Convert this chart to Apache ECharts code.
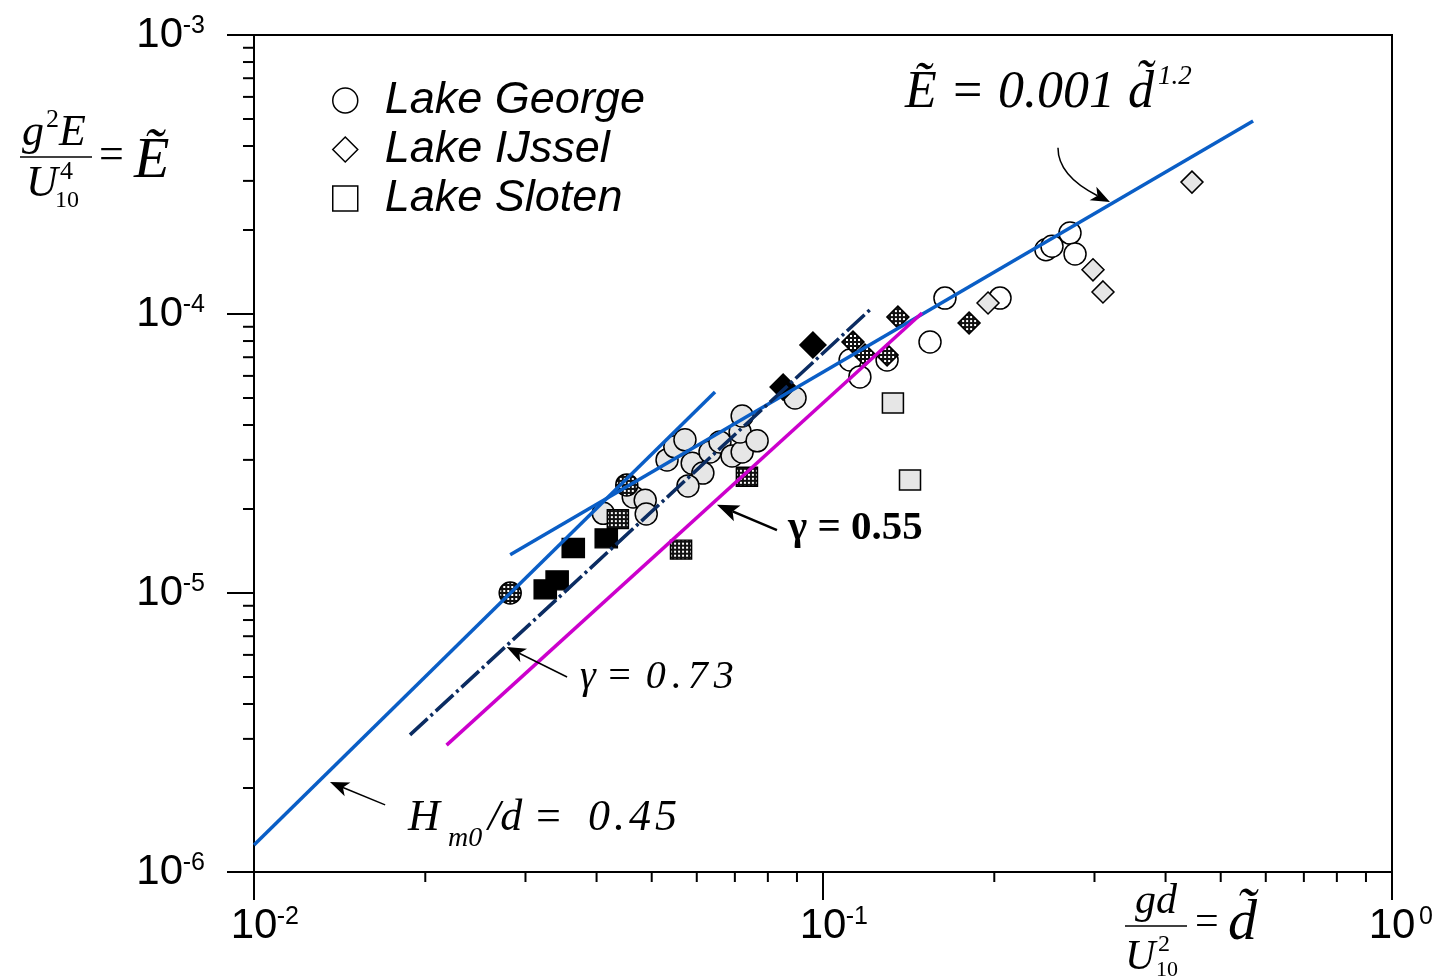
<!DOCTYPE html>
<html><head><meta charset="utf-8">
<script src="https://cdn.jsdelivr.net/npm/echarts@6/dist/echarts.min.js"></script>
<style>html,body{margin:0;padding:0;background:#fff}#c{width:1435px;height:980px}</style>
</head><body><div id="c"></div>
<script>
// ---- data (x = gd/U10^2, y = g^2E/U10^4) ----
const lakeGeorgeDotted = [[0.0282,1.00e-5],[0.0452,2.44e-5]];
const lakeGeorgeGray = [[0.0411,1.93e-5],[0.0464,2.21e-5],[0.0487,2.15e-5],[0.0489,1.92e-5],[0.0532,3.00e-5],[0.0549,3.34e-5],[0.0572,3.54e-5],[0.0589,2.92e-5],[0.0615,2.69e-5],[0.0579,2.42e-5],[0.0633,3.20e-5],[0.0659,3.48e-5],[0.0692,3.10e-5],[0.0721,3.20e-5],[0.0715,3.78e-5],[0.0721,4.31e-5],[0.0766,3.51e-5],[0.0893,5.00e-5]];
const lakeGeorgeWhite = [[0.1116,6.84e-5],[0.1161,5.95e-5],[0.1296,6.84e-5],[0.1542,7.94e-5],[0.1638,1.14e-4],[0.2047,1.14e-4],[0.2465,1.70e-4],[0.2526,1.75e-4],[0.2717,1.95e-4],[0.2773,1.64e-4]];
const lakeIJsselBlack = [[0.0960,7.74e-5],[0.0851,5.47e-5]];
const lakeIJsselDotted = [[0.1129,7.94e-5],[0.1185,7.13e-5],[0.1296,7.13e-5],[0.1354,9.75e-5],[0.1806,9.28e-5]];
const lakeIJsselLight = [[0.1950,1.095e-4],[0.2982,1.44e-4],[0.3105,1.20e-4],[0.4451,2.97e-4]];
const lakeSlotenBlack = [[0.0325,1.03e-5],[0.0341,1.11e-5],[0.0364,1.45e-5],[0.0416,1.57e-5]];
const lakeSlotenDotted = [[0.0436,1.84e-5],[0.0563,1.43e-5],[0.0735,2.61e-5]];
const lakeSlotenLight = [[0.1327,4.80e-5],[0.1422,2.54e-5]];

// reference lines (end points)
const lineHm045 = [[0.01,1.25e-6],[0.0646,5.25e-5]];
const lineE0001 = [[0.0282,1.37e-5],[0.570,4.92e-4]];
const lineGamma073 = [[0.0188,3.10e-6],[0.1219,1.051e-4]];
const lineGamma055 = [[0.0218,2.85e-6],[0.1493,1.008e-4]];

// tick labels (exponents of 10) and minor tick values
const xTickExponents = ['-2','-1','0'];
const yTickExponents = ['-6','-5','-4','-3'];
const xMinorTicks = [0.02,0.03,0.04,0.05,0.06,0.07,0.08,0.09,0.2,0.3,0.4,0.5,0.6,0.7,0.8,0.9];
const yMinorTicks = [2e-6,3e-6,4e-6,5e-6,6e-6,7e-6,8e-6,9e-6,2e-5,3e-5,4e-5,5e-5,6e-5,7e-5,8e-5,9e-5,2e-4,3e-4,4e-4,5e-4,6e-4,7e-4,8e-4,9e-4];

// annotation anchors (data coordinates: left edge, text middle) and arrows [tailX, tailY, tipX, tipY]
const annotE = [0.1394, 6.20e-4];
const annotG055 = [0.0868, 1.70e-5];
const annotG073 = [0.0374, 4.96e-6];
const annotHm0 = [0.01865, 1.55e-6];
const arrowHm0 = [0.0170, 1.74e-6, 0.0136, 2.10e-6];
const arrowG073 = [0.0355, 5.00e-6, 0.0278, 6.40e-6];
const arrowG055 = [0.0830, 1.68e-5, 0.0651, 2.07e-5];
const arrowE = [0.2588, 3.94e-4, 0.3194, 2.52e-4];

function makePattern(w, h){
  const c = document.createElement('canvas'); c.width = 4; c.height = 4;
  const g = c.getContext('2d');
  g.fillStyle = '#111'; g.fillRect(0,0,4,4);
  g.fillStyle = '#fff'; g.fillRect(1,1,2,2);
  return {image: c, repeat: 'repeat', scaleX: 2 / w, scaleY: 2 / h};
}
const GRAY = '#e6e6e6';
const SERIF = '"Liberation Serif"';

function sc(name, data, symbol, size, color){
  return {type:'scatter', name, data, symbol, symbolSize:size, silent:true, z:2,
    itemStyle:{color, borderColor:'#000', borderWidth:1.5, opacity:1}};
}
function ln(name, data, color, width, type){
  return {type:'line', name, data, symbol:'none', silent:true, z:3,
    lineStyle:{color, width, type: type || 'solid'}};
}
function txt(x, y, text, font, extra){
  return Object.assign({type:'text', x, y, style:Object.assign({text, font, fill:'#000', align:'left', verticalAlign:'middle'}, extra || {})});
}

// annotation text builders (pixel offsets relative to the anchor)
const annotationBuilders = [
  () => [txt(0, 0, 'Ẽ = 0.001 d\u0303', 'italic 52px ' + SERIF), txt(253, -16, '1.2', 'italic 27px ' + SERIF)],
  () => [txt(0, 0, 'γ = 0.55', 'bold 41px ' + SERIF)],
  () => [{type:'text', x:0, y:0, style:{text:'{t|γ = }{d|0}{d|.}{d|7}{d|3}', fill:'#000', align:'left', verticalAlign:'middle',
          rich:{t:{font:'italic 40px ' + SERIF, fill:'#000'}, d:{font:'italic 40px ' + SERIF, fill:'#000', padding:[0,3,0,3]}}}}],
  () => [txt(0, 0, 'H', 'italic 44px ' + SERIF), txt(40, 20, 'm0', 'italic 28px ' + SERIF),
         {type:'text', x:80, y:0, style:{text:'{t|/d = }{sp| }{d|0}{d|.}{d|4}{d|5}', fill:'#000', align:'left', verticalAlign:'middle',
          rich:{t:{font:'italic 44px ' + SERIF, fill:'#000'}, sp:{font:'10px ' + SERIF, width:12}, d:{font:'italic 44px ' + SERIF, fill:'#000', padding:[0,2,0,2]}}}}]
];
const arrowWidths = [1.5, 1.5, 2.5, 1.5];
const arrowCurved = [false, false, false, true];

const chart = echarts.init(document.getElementById('c'), null, {renderer:'canvas'});
const tickFont = 'Liberation Sans';
function expOf(v){ return String(Math.round(Math.log10(v))); }

const option = {
  animation:false,
  backgroundColor:'#fff',
  grid:{left:254, right:43, top:35, bottom:108, show:true, borderColor:'#000', borderWidth:2, containLabel:false, outerBoundsMode:'none'},
  xAxis:{type:'log', logBase:10, min:0.01, max:1,
    axisLine:{show:true, onZero:false, lineStyle:{color:'#000', width:2}},
    axisTick:{show:true, inside:false, length:28, lineStyle:{color:'#000', width:2}},
    splitLine:{show:false}, minorTick:{show:false},
    axisLabel:{show:true, margin:33, showMinLabel:true, showMaxLabel:true, hideOverlap:false,
      formatter:(v)=>{ const e = expOf(v); const s = xTickExponents[xTickExponents.indexOf(e)]; return '{sp| }{b|10}{s|' + s + '}'; },
      rich:{sp:{width:21, fontSize:10}, b:{fontSize:42, lineHeight:42, fontFamily:tickFont, color:'#000'},
            s:{fontSize:25, lineHeight:24, verticalAlign:'top', fontFamily:tickFont, color:'#000', width:21}}}
  },
  yAxis:{type:'log', logBase:10, min:1e-6, max:1e-3,
    axisLine:{show:true, onZero:false, lineStyle:{color:'#000', width:2}},
    axisTick:{show:true, inside:false, length:27, lineStyle:{color:'#000', width:2}},
    splitLine:{show:false}, minorTick:{show:false},
    axisLabel:{show:true, margin:49, showMinLabel:true, showMaxLabel:true, hideOverlap:false,
      formatter:(v)=>{ const e = expOf(v); const s = yTickExponents[yTickExponents.indexOf(e)]; return '{b|10}{s|' + s + '}'; },
      rich:{b:{fontSize:42, lineHeight:42, fontFamily:tickFont, color:'#000'},
            s:{fontSize:25, lineHeight:24, verticalAlign:'top', fontFamily:tickFont, color:'#000', width:22}}}
  },
  legend:{show:true, orient:'vertical', left:332, top:78, padding:0, itemWidth:25, itemHeight:25, itemGap:4,
    selectedMode:false,
    textStyle:{fontFamily:tickFont, fontStyle:'italic', fontSize:45, color:'#000', padding:[0,0,0,22]},
    data:[
      {name:'Lake George', icon:'circle', itemStyle:{color:'#fff', borderColor:'#000', borderWidth:1.5}},
      {name:'Lake IJssel', icon:'diamond', itemStyle:{color:'#fff', borderColor:'#000', borderWidth:1.5}},
      {name:'Lake Sloten', icon:'rect', itemStyle:{color:'#fff', borderColor:'#000', borderWidth:1.5}}
    ]},
  series:[
    sc('Lake George', lakeGeorgeWhite, 'circle', 22, '#fff'),
    sc('Lake George', lakeGeorgeGray, 'circle', 22, GRAY),
    sc('Lake George', lakeGeorgeDotted, 'circle', 22, makePattern(22,22)),
    sc('Lake IJssel', lakeIJsselLight, 'diamond', 22, GRAY),
    sc('Lake IJssel', lakeIJsselDotted, 'diamond', 22, makePattern(22,22)),
    sc('Lake IJssel', lakeIJsselBlack, 'diamond', 26, '#000'),
    sc('Lake Sloten', lakeSlotenLight, 'rect', [21,20], GRAY),
    sc('Lake Sloten', lakeSlotenDotted, 'rect', [21,19], makePattern(21,19)),
    sc('Lake Sloten', lakeSlotenBlack, 'rect', [22,19], '#000'),
    ln('Hm0/d = 0.45', lineHm045, '#0a5ec6', 3.5),
    ln('E = 0.001 d^1.2', lineE0001, '#0a5ec6', 3.5),
    ln('gamma = 0.73', lineGamma073, '#0b2c62', 3.5, [24,4,3,4]),
    ln('gamma = 0.55', lineGamma055, '#cc00cc', 3.5),
    // minor ticks on the x axis
    {type:'custom', name:'xMinor', silent:true, clip:false, z:5,
      data: xMinorTicks.map(v=>[v, 1e-6]),
      renderItem:(p, api)=>{ const pt = api.coord([api.value(0), api.value(1)]);
        return {type:'line', shape:{x1:pt[0], y1:pt[1], x2:pt[0], y2:pt[1]+10}, style:{stroke:'#000', lineWidth:2}}; }},
    // minor ticks on the y axis
    {type:'custom', name:'yMinor', silent:true, clip:false, z:5,
      data: yMinorTicks.map(v=>[0.01, v]),
      renderItem:(p, api)=>{ const pt = api.coord([api.value(0), api.value(1)]);
        return {type:'line', shape:{x1:pt[0], y1:pt[1], x2:pt[0]-11, y2:pt[1]}, style:{stroke:'#000', lineWidth:2}}; }},
    // annotation texts
    {type:'custom', name:'annotations', silent:true, clip:false, z:6,
      data:[annotE, annotG055, annotG073, annotHm0],
      renderItem:(p, api)=>{ const pt = api.coord([api.value(0), api.value(1)]);
        return {type:'group', x:pt[0], y:pt[1], children: annotationBuilders[p.dataIndex]()}; }},
    // arrows
    {type:'custom', name:'arrows', silent:true, clip:false, z:6,
      encode:{x:[0,2], y:[1,3]},
      data:[arrowHm0, arrowG073, arrowG055, arrowE],
      renderItem:(p, api)=>{
        const a = api.coord([api.value(0), api.value(1)]);
        const b = api.coord([api.value(2), api.value(3)]);
        const i = p.dataIndex, w = arrowWidths[i];
        let from = a, shape, type;
        let c1, c2;
        if (arrowCurved[i]) {
          c1 = [a[0], a[1] + 0.45 * (b[1] - a[1])];
          c2 = [b[0] - 0.58 * (b[0] - a[0]), b[1] - 0.28 * (b[1] - a[1])];
          from = c2;
        }
        const dx = b[0] - from[0], dy = b[1] - from[1], L = Math.hypot(dx, dy);
        const ux = dx / L, uy = dy / L, nx = -uy, ny = ux;
        const hl = w > 2 ? 22 : 19, hw = w > 2 ? 8.5 : 7.5;
        const notch = [b[0] - ux * (hl - 5), b[1] - uy * (hl - 5)];
        const head = [[b[0], b[1]], [b[0] - ux*hl + nx*hw, b[1] - uy*hl + ny*hw], notch, [b[0] - ux*hl - nx*hw, b[1] - uy*hl - ny*hw]];
        let lineEl;
        if (arrowCurved[i]) {
          lineEl = {type:'bezierCurve', shape:{x1:a[0], y1:a[1], cpx1:c1[0], cpy1:c1[1], cpx2:c2[0], cpy2:c2[1], x2:notch[0], y2:notch[1]}, style:{stroke:'#000', lineWidth:w, fill:null}};
        } else {
          lineEl = {type:'line', shape:{x1:a[0], y1:a[1], x2:notch[0], y2:notch[1]}, style:{stroke:'#000', lineWidth:w}};
        }
        return {type:'group', children:[lineEl, {type:'polygon', shape:{points:head}, style:{fill:'#000'}}]};
      }}
  ],
  graphic:[
    // y-axis title: g^2E / U^4_10 = Ẽ
    {type:'text', x:22, y:133, style:{text:'g', font:'italic 44px "Liberation Serif"', fill:'#000', align:'left', verticalAlign:'middle'}},
    {type:'text', x:46, y:120, style:{text:'2', font:'26px "Liberation Serif"', fill:'#000', align:'left', verticalAlign:'middle'}},
    {type:'text', x:59, y:133, style:{text:'E', font:'italic 44px "Liberation Serif"', fill:'#000', align:'left', verticalAlign:'middle'}},
    {type:'line', shape:{x1:20, y1:157, x2:92, y2:157}, style:{stroke:'#000', lineWidth:1.5}},
    {type:'text', x:26, y:184, style:{text:'U', font:'italic 44px "Liberation Serif"', fill:'#000', align:'left', verticalAlign:'middle'}},
    {type:'text', x:60, y:172, style:{text:'4', font:'26px "Liberation Serif"', fill:'#000', align:'left', verticalAlign:'middle'}},
    {type:'text', x:55, y:201, style:{text:'10', font:'24px "Liberation Serif"', fill:'#000', align:'left', verticalAlign:'middle'}},
    {type:'text', x:99, y:156, style:{text:'=', font:'44px "Liberation Serif"', fill:'#000', align:'left', verticalAlign:'middle'}},
    {type:'text', x:134, y:162, style:{text:'Ẽ', font:'italic 58px "Liberation Serif"', fill:'#000', align:'left', verticalAlign:'middle'}},
    // x-axis title: gd / U^2_10 = d̃
    {type:'text', x:1156, y:902, style:{text:'gd', font:'italic 42px "Liberation Serif"', fill:'#000', align:'center', verticalAlign:'middle'}},
    {type:'line', shape:{x1:1125, y1:926, x2:1187, y2:926}, style:{stroke:'#000', lineWidth:1.5}},
    {type:'text', x:1125, y:958, style:{text:'U', font:'italic 42px "Liberation Serif"', fill:'#000', align:'left', verticalAlign:'middle'}},
    {type:'text', x:1158, y:945, style:{text:'2', font:'24px "Liberation Serif"', fill:'#000', align:'left', verticalAlign:'middle'}},
    {type:'text', x:1156, y:970, style:{text:'10', font:'22px "Liberation Serif"', fill:'#000', align:'left', verticalAlign:'middle'}},
    {type:'text', x:1195, y:923, style:{text:'=', font:'42px "Liberation Serif"', fill:'#000', align:'left', verticalAlign:'middle'}},
    {type:'text', x:1228, y:924, style:{text:'d\u0303', font:'italic 58px "Liberation Serif"', fill:'#000', align:'left', verticalAlign:'middle'}}
  ]
};
chart.setOption(option);
</script>
</body></html>
